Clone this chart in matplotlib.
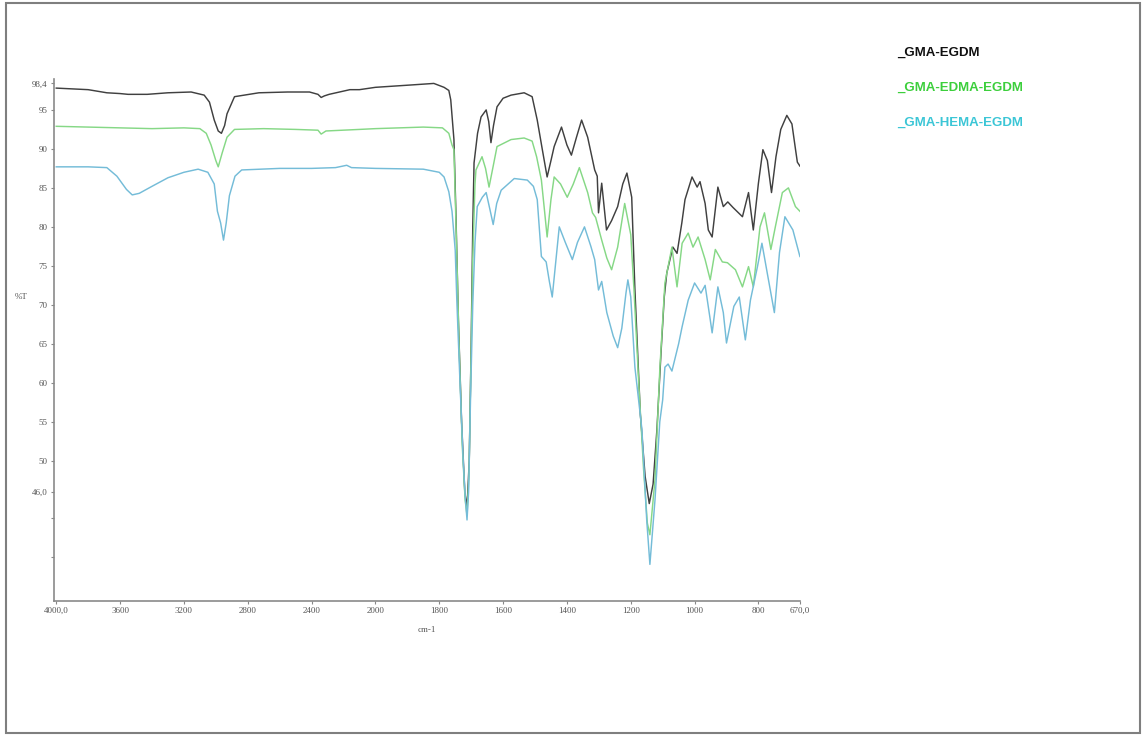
import numpy as np
import matplotlib
matplotlib.use("Agg")
import matplotlib.pyplot as plt
from matplotlib.patches import Rectangle

# FTIR spectra, %T vs wavenumber (cm-1)
wn_egdm = [4000, 3900, 3800, 3683, 3600, 3550, 3430, 3300, 3155, 3073, 3040, 3010, 2985, 2965, 2945,
           2930, 2883, 2730, 2550, 2413, 2360, 2340, 2320, 2290, 2160, 2100, 2000, 1889, 1817, 1785,
           1770, 1764, 1754, 1748, 1740, 1730, 1720, 1713, 1706, 1700, 1695, 1691, 1680, 1669, 1653,
           1645, 1638, 1630, 1619, 1600, 1575, 1534, 1509, 1493, 1477, 1462, 1450, 1440, 1417, 1400,
           1386, 1370, 1354, 1335, 1313, 1305, 1301, 1291, 1276, 1260, 1241, 1225, 1212, 1197, 1187,
           1170, 1155, 1142, 1130, 1118, 1105, 1095, 1087, 1068, 1055, 1040, 1030, 1008, 992, 983,
           967, 957, 945, 927, 910, 896, 880, 850, 831, 816, 800, 786, 772, 759, 745, 730, 711, 695,
           684, 678, 670]
t_egdm = [97.8, 97.7, 97.6, 97.2, 97.1, 97.0, 97.0, 97.2, 97.3, 96.9, 96.0, 93.7, 92.3, 92.0, 93.0,
          94.5, 96.7, 97.2, 97.3, 97.3, 97.0, 96.6, 96.8, 97.0, 97.6, 97.6, 97.9, 98.2, 98.4, 97.9,
          97.5, 96.3, 91.2, 82.0, 68.0, 55.0, 46.0, 44.0, 50.0, 65.0, 80.0, 88.2, 92.0, 94.1, 95.0,
          93.5, 90.8, 93.0, 95.4, 96.5, 96.9, 97.2, 96.7, 93.7, 89.9, 86.4, 88.5, 90.3, 92.8, 90.5,
          89.2, 91.5, 93.7, 91.5, 87.3, 86.5, 81.8, 85.6, 79.6, 80.8, 82.6, 85.5, 86.9, 83.8, 72.0,
          56.0, 48.0, 44.5, 47.0, 54.0, 64.0, 71.0, 74.1, 77.4, 76.6, 80.5, 83.5, 86.4, 85.1, 85.8,
          83.0, 79.6, 78.7, 85.1, 82.6, 83.2, 82.5, 81.3, 84.4, 79.6, 85.6, 89.9, 88.5, 84.4, 89.0,
          92.5, 94.3, 93.2, 90.0, 88.3, 87.8]

wn_edma = [4000, 3800, 3600, 3400, 3200, 3100, 3060, 3030, 3000, 2985, 2960, 2930, 2883, 2700, 2500,
           2360, 2340, 2310, 2100, 2000, 1850, 1790, 1770, 1760, 1754, 1746, 1738, 1728, 1719, 1713,
           1707, 1701, 1695, 1688, 1685, 1666, 1655, 1644, 1630, 1619, 1575, 1534, 1509, 1495, 1480,
           1470, 1462, 1450, 1440, 1420, 1399, 1380, 1361, 1335, 1320, 1310, 1291, 1275, 1260, 1241,
           1219, 1200, 1190, 1175, 1160, 1148, 1140, 1124, 1109, 1093, 1071, 1055, 1039, 1020, 1005,
           989, 967, 951, 935, 913, 897, 872, 850, 831, 816, 795, 781, 761, 747, 725, 706, 684, 670]
t_edma = [92.9, 92.8, 92.7, 92.6, 92.7, 92.6, 92.0, 90.5, 88.5, 87.7, 89.5, 91.5, 92.5, 92.6, 92.5,
          92.4, 91.9, 92.3, 92.5, 92.6, 92.8, 92.7, 92.0, 90.5, 89.9, 78.0, 65.0, 52.0, 45.0, 43.0,
          48.0, 62.0, 76.0, 85.5, 87.3, 89.0, 87.5, 85.1, 88.0, 90.3, 91.2, 91.4, 91.0, 89.0, 86.0,
          82.0, 78.7, 83.5, 86.4, 85.5, 83.8, 85.5, 87.6, 84.4, 81.8, 81.2, 78.3, 76.0, 74.5, 77.4,
          83.0, 79.0, 72.0, 60.0, 49.0, 42.0, 40.5, 47.6, 61.7, 72.8, 77.4, 72.3, 77.9, 79.2, 77.4,
          78.7, 75.8, 73.2, 77.1, 75.5, 75.4, 74.5, 72.3, 74.9, 72.3, 80.0, 81.8, 77.1, 80.0, 84.4,
          85.0, 82.6, 82.0]

wn_hema = [4000, 3800, 3683, 3620, 3560, 3524, 3480, 3400, 3300, 3200, 3111, 3050, 3010, 2990, 2970,
           2952, 2935, 2915, 2880, 2838, 2600, 2400, 2250, 2180, 2150, 2000, 1850, 1800, 1785, 1770,
           1760, 1750, 1745, 1735, 1725, 1718, 1713, 1708, 1702, 1695, 1688, 1681, 1665, 1653, 1640,
           1631, 1620, 1606, 1565, 1524, 1505, 1493, 1480, 1465, 1455, 1446, 1435, 1424, 1405, 1383,
           1367, 1345, 1325, 1313, 1301, 1291, 1275, 1255, 1241, 1228, 1215, 1209, 1200, 1187, 1165,
           1150, 1140, 1124, 1109, 1100, 1093, 1083, 1071, 1050, 1039, 1020, 1000, 980, 967, 951,
           945, 927, 910, 900, 877, 860, 841, 825, 803, 789, 772, 750, 734, 717, 692, 670]
t_hema = [87.7, 87.7, 87.6, 86.5, 84.8, 84.1, 84.3, 85.2, 86.3, 87.0, 87.4, 87.0, 85.5, 82.0, 80.5,
          78.3, 80.5, 84.0, 86.5, 87.3, 87.5, 87.5, 87.6, 87.9, 87.6, 87.5, 87.4, 87.0, 86.4, 84.5,
          82.0, 77.0, 70.6, 60.0, 50.0, 45.0, 42.4, 46.0, 58.0, 70.0, 78.0, 82.6, 83.8, 84.4, 82.0,
          80.3, 83.0, 84.7, 86.2, 86.0, 85.2, 83.5, 76.2, 75.5, 73.0, 71.0, 75.5, 80.0, 78.0, 75.8,
          78.0, 80.0, 77.5, 75.8, 71.9, 73.0, 69.0, 66.0, 64.5, 67.0, 71.5, 73.2, 71.0, 62.0, 54.0,
          42.4, 36.7, 45.0, 55.0, 57.8, 62.0, 62.4, 61.5, 65.0, 67.2, 70.6, 72.8, 71.5, 72.5, 68.1,
          66.4, 72.3, 69.0, 65.1, 69.8, 71.0, 65.5, 70.6, 74.9, 77.9, 74.0, 69.0, 76.7, 81.3, 79.6,
          76.2]

names = ["_GMA-EGDM", "_GMA-EDMA-EGDM", "_GMA-HEMA-EGDM"]
line_colors = ["#404040", "#86d886", "#74bcd8"]
text_colors = ["#111111", "#3ccf3c", "#3cc6d6"]

x_ticks = [4000, 3600, 3200, 2800, 2400, 2000, 1800, 1600, 1400, 1200, 1000, 800, 670]
x_labels = ["4000,0", "3600", "3200", "2800", "2400", "2000", "1800", "1600", "1400",
            "1200", "1000", "800", "670,0"]
y_ticks = [98.4, 95, 90, 85, 80, 75, 70, 65, 60, 55, 50, 46.0]
y_labels = ["98,4", "95", "90", "85", "80", "75", "70", "65", "60", "55", "50", "46,0"]


# the instrument plot changes scale at 2000 cm-1 (400/div above, 200/div below)
def fwd(x):
    x = np.asarray(x, dtype=float)
    return np.where(x >= 2000, (x - 2000) / 400.0, (x - 2000) / 200.0)


def inv(y):
    y = np.asarray(y, dtype=float)
    return np.where(y >= 0, 2000 + 400.0 * y, 2000 + 200.0 * y)


fig = plt.figure(figsize=(11.46, 7.36), dpi=100)
ax = fig.add_axes([0.047, 0.1834, 0.651, 0.7096])

series = [(wn_egdm, t_egdm), (wn_edma, t_edma), (wn_hema, t_hema)]
for (wn, t), c in zip(series, line_colors):
    ax.plot(wn, t, color=c, lw=1.05)

ax.set_xscale("function", functions=(fwd, inv))
ax.set_xlim(4015, 670)
ax.set_ylim(32, 99)

ax.set_xticks(x_ticks, x_labels)
ax.set_yticks(y_ticks, y_labels)
ax.set_yticks([42.7, 37.6], minor=True)
ax.xaxis.set_minor_locator(matplotlib.ticker.NullLocator())
ax.tick_params(axis="both", which="both", length=2.5, width=0.8, color="#888888",
               labelsize=6.5, labelcolor="#555555", pad=2)
for lab in ax.get_xticklabels() + ax.get_yticklabels():
    lab.set_fontfamily("Liberation Serif")

for side in ["top", "right"]:
    ax.spines[side].set_visible(False)
for side in ["left", "bottom"]:
    ax.spines[side].set_color("#8a8a8a")
    ax.spines[side].set_linewidth(1.2)

fig.text(21 / 1146, 1 - 297 / 736, "%T", fontsize=6.5, family="Liberation Serif",
         color="#555555", ha="center", va="center")
fig.text(427 / 1146, 1 - 630 / 736, "cm-1", fontsize=6.5, family="Liberation Serif",
         color="#555555", ha="center", va="center")

# legend drawn as coloured labels, like the instrument software
legend_y = [53, 88, 123]
for name, c, yy in zip(names, text_colors, legend_y):
    fig.text(897 / 1146, 1 - yy / 736, name, fontsize=9.5, fontweight="bold",
             family="Liberation Sans", color=c, ha="left", va="center")

fig.add_artist(Rectangle((0.005, 0.004), 0.99, 0.992, transform=fig.transFigure,
                         fill=False, edgecolor="#7f7f7f", lw=1.5))

fig.savefig("out.png", dpi=100, facecolor="white")
